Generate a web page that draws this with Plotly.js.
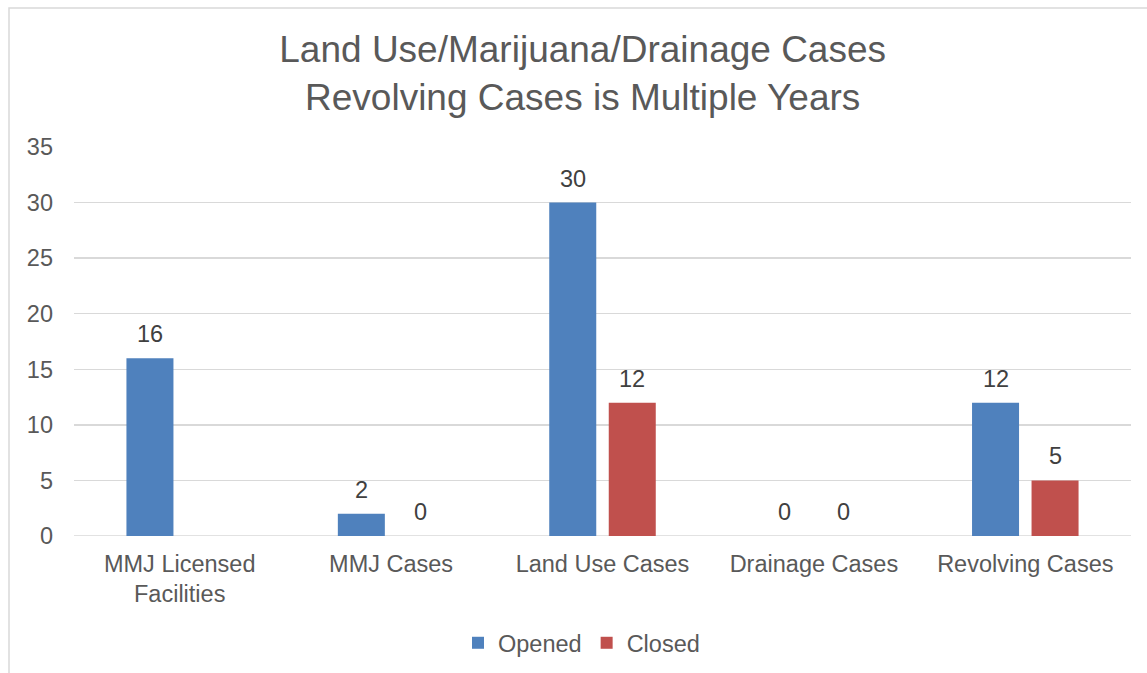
<!DOCTYPE html>
<html>
<head>
<meta charset="utf-8">
<script src="https://cdn.plot.ly/plotly-3.0.1.min.js"></script>
<style>html,body{margin:0;padding:0;background:#fff;}#chart{width:1147px;height:673px;}</style>
</head>
<body>
<div id="chart"></div>
<script>
const categories = ["MMJ Licensed<br>Facilities", "MMJ Cases", "Land Use Cases", "Drainage Cases", "Revolving Cases"];
const opened = [16, 2, 30, 0, 12];
const closed = [null, 0, 12, 0, 5];
const seriesNames = ["Opened", "Closed"];
const yTicks = [0, 5, 10, 15, 20, 25, 30, 35];

const L = 74, R = 1131, T = 147, B = 536;
const pw = R - L, ph = B - T;
const BARGAP = 0.437;
const slotPx = pw / categories.length * (1 - BARGAP) / 2;

const FONT = "Liberation Sans, Arial, sans-serif";
const labelFont = {family: FONT, size: 23.5, color: "#404040"};

const traces = [
  {type: "bar", name: seriesNames[0], x: categories, y: opened,
   marker: {color: "#4F81BD"}, hoverinfo: "x+y"},
  {type: "bar", name: seriesNames[1], x: categories, y: closed,
   marker: {color: "#C0504D"}, hoverinfo: "x+y"}
];

const annotations = [];
[opened, closed].forEach((series, si) => {
  series.forEach((v, i) => {
    if (v === null) return;
    annotations.push({
      x: categories[i], y: v, xref: "x", yref: "y", text: String(v),
      showarrow: false, yanchor: "bottom", xanchor: "center",
      xshift: (si === 0 ? -1 : 1) * slotPx / 2, yshift: 9,
      font: labelFont
    });
  });
});

const layout = {
  width: 1147, height: 673,
  margin: {l: L, r: 1147 - R, t: T, b: 673 - B, autoexpand: false},
  paper_bgcolor: "#ffffff", plot_bgcolor: "#ffffff",
  font: {family: FONT, color: "#595959", size: 23.5},
  title: {text: "Land Use/Marijuana/Drainage Cases<br>Revolving Cases is Multiple Years",
          font: {size: 37, color: "#595959"}, x: 0.508, xanchor: "center", y: 1 - 62 / 673, yanchor: "middle"},
  barmode: "group", bargap: BARGAP, bargroupgap: 0.21,
  xaxis: {type: "category", showgrid: false, zeroline: false, showline: false, ticks: "",
          ticklabelstandoff: 11, automargin: false,
          tickfont: {size: 23.5, color: "#595959"}, fixedrange: true},
  yaxis: {range: [0, 35], tickvals: yTicks, showgrid: true, gridcolor: "#d9d9d9", gridwidth: 1.3,
          zeroline: false, showline: false, ticks: "", ticklabelstandoff: 20, automargin: false,
          tickfont: {size: 23.5, color: "#595959"}, fixedrange: true},
  showlegend: true,
  legend: {orientation: "h", x: 0.5 - 21 / pw, xanchor: "center", y: (B - 643) / ph, yanchor: "middle",
           font: {size: 23.5, color: "#595959"}, itemwidth: 30, traceorder: "normal"},
  annotations: annotations,
  shapes: [
    {type: "line", xref: "paper", yref: "y", x0: 0, x1: 1, y0: 0, y1: 0,
     line: {color: "#d9d9d9", width: 1.3}, layer: "below"},
    {type: "rect", xref: "paper", yref: "paper",
     x0: (9 - L) / pw, x1: (1160 - L) / pw, y0: (B - 690) / ph, y1: 1 + (T - 8) / ph,
     line: {color: "#d9d9d9", width: 1.5}, fillcolor: "rgba(0,0,0,0)", layer: "below"}
  ]
};

Plotly.newPlot("chart", traces, layout, {displayModeBar: false, staticPlot: true});
</script>
</body>
</html>
